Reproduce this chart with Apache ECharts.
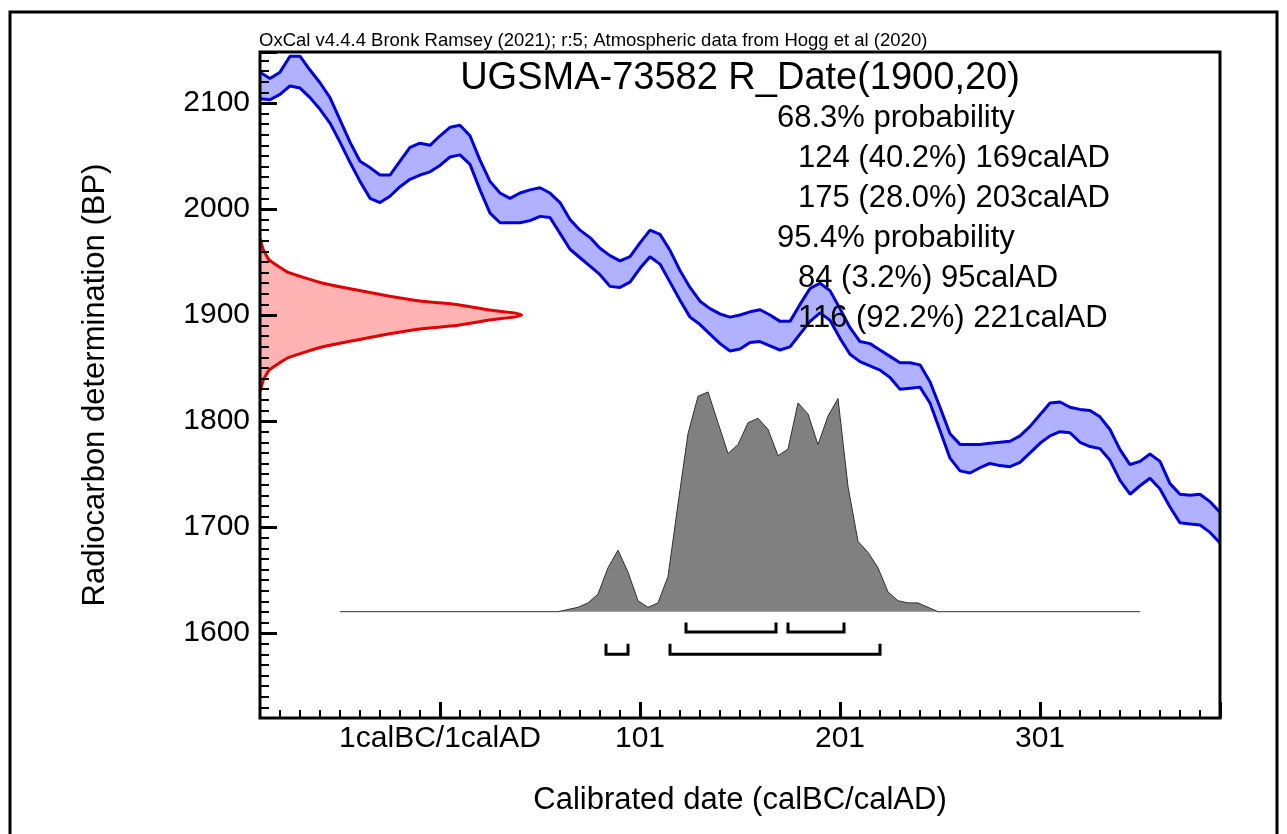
<!DOCTYPE html>
<html>
<head>
<meta charset="utf-8">
<title>UGSMA-73582 R_Date(1900,20)</title>
<script src="https://cdn.jsdelivr.net/npm/echarts@6/dist/echarts.min.js"></script>
<style>
html, body { margin: 0; padding: 0; background: #fff; }
#chart { width: 1287px; height: 834px; }
</style>
</head>
<body>
<div id="chart"></div>
<script>
// calibration curve (IntCal band, +/- 1 sigma), calAD years
var curveYears = [-89,-84,-79,-74,-69,-64,-59,-54,-49,-44,-39,-34,-29,-24,-19,-14,-9,-4,1,6,
  11,16,21,26,31,36,41,46,51,56,61,66,71,76,81,86,91,96,101,106,
  111,116,121,126,131,136,141,146,151,156,161,166,171,176,181,186,191,196,201,206,
  211,216,221,226,231,236,241,246,251,256,261,266,271,276,281,286,291,296,301,306,
  311,316,321,326,331,336,341,346,351,356,361,366,371,376,381,386,391];
var curveUpper = [2129,2123,2129,2144,2144,2131,2119,2105,2084,2063,
  2045,2039,2032,2032,2045,2058,2062,2060,2069,2077,
  2079,2069,2046,2026,2015,2010,2015,2018,2020,2015,
  2006,1990,1980,1973,1963,1956,1951,1955,1968,1980,
  1976,1961,1942,1926,1913,1906,1901,1898,1900,1903,
  1905,1900,1894,1894,1910,1925,1930,1923,1906,1888,
  1875,1873,1867,1861,1855,1855,1853,1837,1813,1788,
  1778,1778,1778,1779,1780,1781,1786,1795,1806,1817,
  1818,1813,1811,1810,1804,1792,1773,1759,1762,1769,
  1762,1741,1731,1730,1731,1724,1714];
var curveLower = [2104,2103,2108,2116,2114,2105,2094,2081,2063,2044,
  2026,2010,2006,2012,2021,2028,2032,2035,2041,2049,
  2051,2042,2018,1996,1987,1987,1987,1989,1993,1992,
  1977,1962,1954,1946,1938,1927,1926,1931,1944,1955,
  1948,1931,1914,1898,1891,1882,1873,1866,1868,1874,
  1875,1871,1867,1870,1882,1894,1902,1895,1878,1863,
  1856,1852,1848,1841,1830,1831,1832,1817,1791,1765,
  1753,1751,1756,1760,1758,1757,1761,1770,1779,1786,
  1790,1789,1780,1776,1774,1763,1744,1731,1739,1746,
  1736,1719,1704,1703,1702,1695,1685];

// radiocarbon likelihood R_Date(1900,20): BP vs relative probability
var redBP   = [1972,1968,1962,1958,1952,1946,1940,1930,1924,1918,1913,1910,1905,1902,1900,
  1898,1895,1890,1887,1882,1876,1870,1860,1854,1848,1842,1838,1832,1828];
var redProb = [0,0.005,0.012,0.02,0.035,0.07,0.11,0.24,0.36,0.49,0.62,0.75,0.87,0.97,1,
  0.97,0.87,0.75,0.62,0.49,0.36,0.24,0.11,0.07,0.035,0.02,0.012,0.005,0];

// calibrated distribution: calAD years vs relative probability
var greyYears = [-49,55,60,65,70,75,80,85,90,95,100,105,110,115,120,125,130,135,140,145,
  150,155,160,165,170,175,180,185,190,195,200,205,210,215,220,225,230,235,240,245,250,351];
var greyProb = [0,0,0,0.01,0.02,0.04,0.08,0.20,0.28,0.18,0.05,0.02,0.04,0.16,0.49,0.81,0.98,1.0,0.86,0.72,
  0.76,0.86,0.88,0.83,0.71,0.74,0.95,0.90,0.76,0.89,0.97,0.57,0.32,0.27,0.20,0.09,0.05,0.04,0.04,0.02,0,0];

// highest probability ranges [from, to, percent]
var ranges68 = [[124,169,40.2],[175,203,28.0]];
var ranges95 = [[84,95,3.2],[116,221,92.2]];

var xMajorTicks = [1,101,201,301];
var yMajorTicks = [1600,1700,1800,1900,2000,2100];

var FONT = '"Liberation Sans", Arial, sans-serif';

function zip(a, b) {
    var out = [];
    for (var i = 0; i < a.length; i++) out.push([a[i], b[i]]);
    return out;
}

function bracketSeries(ranges, lineBP, topBP) {
    return {
        type: 'custom',
        xAxisIndex: 0, yAxisIndex: 0,
        z: 5,
        data: ranges.map(function (r) { return [r[0], r[1]]; }),
        renderItem: function (params, api) {
            var s = api.value(0), e = api.value(1);
            return {
                type: 'polyline',
                shape: { points: [api.coord([s, topBP]), api.coord([s, lineBP]), api.coord([e, lineBP]), api.coord([e, topBP])] },
                style: { stroke: '#000', lineWidth: 3, fill: null }
            };
        }
    };
}

var infoTexts = [];
var infoY = 118;
function addInfo(text, x) {
    infoTexts.push({
        type: 'text', z: 100,
        style: { text: text, x: x, y: infoY, fontSize: 31, fontFamily: FONT, fill: '#000', textAlign: 'left', textVerticalAlign: 'middle' }
    });
    infoY += 40;
}
addInfo('68.3% probability', 777);
ranges68.forEach(function (r) { addInfo(r[0] + ' (' + r[2].toFixed(1) + '%) ' + r[1] + 'calAD', 798); });
addInfo('95.4% probability', 777);
ranges95.forEach(function (r) { addInfo(r[0] + ' (' + r[2].toFixed(1) + '%) ' + r[1] + 'calAD', 798); });

var noLine = { show: false, onZero: false };

var chart = echarts.init(document.getElementById('chart'));

var option = {
    animation: false,
    backgroundColor: '#fff',
    grid: [
        { left: 260, top: 52, width: 960, height: 666, outerBoundsMode: 'none' },
        { left: 440, top: 52, width: 780, height: 666, outerBoundsMode: 'none' },
        { left: 260, top: 52, width: 960, height: 581.2, outerBoundsMode: 'none' }
    ],
    xAxis: [
        {   // minor ticks, calendar years
            gridIndex: 0, type: 'value', position: 'bottom', min: -89, max: 391, interval: 10, z: 10,
            axisLine: noLine,
            axisTick: { inside: true, length: 8, lineStyle: { color: '#000', width: 2 } },
            axisLabel: { show: false }, splitLine: { show: false }
        },
        {   // probability scale of the likelihood curve
            gridIndex: 0, type: 'value', position: 'top', min: 0, max: 3.668, show: false,
            axisLine: noLine
        },
        {   // major ticks and labels
            gridIndex: 1, type: 'value', position: 'bottom', min: 1, max: 391, interval: 100, z: 10,
            axisLine: noLine,
            axisTick: { inside: true, length: 16, lineStyle: { color: '#000', width: 3 } },
            axisLabel: {
                margin: 6, color: '#000', fontSize: 30, fontFamily: FONT,
                formatter: function (v) {
                    if (xMajorTicks.indexOf(v) < 0) return '';
                    return v === 1 ? '1calBC/1calAD' : String(v);
                }
            },
            splitLine: { show: false }
        },
        { gridIndex: 2, type: 'value', min: -89, max: 391, show: false, axisLine: noLine }
    ],
    yAxis: [
        {   // minor ticks, radiocarbon BP
            gridIndex: 0, type: 'value', position: 'left', min: 1520, max: 2148, interval: 10, z: 10,
            axisLine: noLine,
            axisTick: { inside: true, length: 9, lineStyle: { color: '#000', width: 2 } },
            axisLabel: { show: false }, splitLine: { show: false }
        },
        {   // probability scale of the calibrated distribution
            gridIndex: 0, type: 'value', position: 'right', min: -0.4838, max: 2.547, show: false,
            axisLine: noLine
        },
        { gridIndex: 1, type: 'value', min: 0, max: 1, show: false, axisLine: noLine },
        {   // major ticks and labels
            gridIndex: 2, type: 'value', position: 'left', min: 1600, max: 2148, interval: 100, z: 10,
            axisLine: noLine,
            axisTick: { inside: true, length: 17, lineStyle: { color: '#000', width: 3 } },
            axisLabel: {
                margin: 10, color: '#000', fontSize: 30, fontFamily: FONT,
                formatter: function (v) { return yMajorTicks.indexOf(v) < 0 ? '' : String(v); }
            },
            splitLine: { show: false }
        }
    ],
    series: [
        {   // calibration band fill
            type: 'custom', xAxisIndex: 0, yAxisIndex: 0, z: 1,
            data: [[curveYears[0], curveUpper[0]]],
            renderItem: function (params, api) {
                var pts = [];
                for (var i = 0; i < curveYears.length; i++) pts.push(api.coord([curveYears[i], curveUpper[i]]));
                for (var j = curveYears.length - 1; j >= 0; j--) pts.push(api.coord([curveYears[j], curveLower[j]]));
                return { type: 'polygon', shape: { points: pts }, style: { fill: '#b0b2ff', stroke: null } };
            }
        },
        {
            type: 'line', xAxisIndex: 0, yAxisIndex: 0, z: 3,
            data: zip(curveYears, curveUpper), showSymbol: false, symbol: 'none',
            lineStyle: { color: '#0000d8', width: 3 }
        },
        {
            type: 'line', xAxisIndex: 0, yAxisIndex: 0, z: 3,
            data: zip(curveYears, curveLower), showSymbol: false, symbol: 'none',
            lineStyle: { color: '#0000d8', width: 3 }
        },
        {   // likelihood, drawn sideways on the BP axis
            type: 'custom', xAxisIndex: 1, yAxisIndex: 0, z: 4,
            data: [[redProb[0], redBP[0]]],
            renderItem: function (params, api) {
                var pts = [];
                for (var i = 0; i < redBP.length; i++) pts.push(api.coord([redProb[i], redBP[i]]));
                return {
                    type: 'group',
                    children: [
                        { type: 'polygon', shape: { points: pts, smooth: 0.15 }, style: { fill: '#ffb3b3', stroke: null } },
                        { type: 'polyline', shape: { points: pts, smooth: 0.15 }, style: { stroke: '#e00000', lineWidth: 3, fill: null } }
                    ]
                };
            }
        },
        {   // calibrated distribution
            type: 'line', xAxisIndex: 0, yAxisIndex: 1, z: 4,
            data: zip(greyYears, greyProb), showSymbol: false, symbol: 'none',
            lineStyle: { color: '#303030', width: 1 },
            areaStyle: { color: '#808080', opacity: 1 }
        },
        bracketSeries(ranges68, 1601, 1610),
        bracketSeries(ranges95, 1580, 1590)
    ],
    graphic: [
        { type: 'rect', z: 100, shape: { x: 10, y: 12, width: 1267, height: 840 },
          style: { fill: null, stroke: '#000', lineWidth: 3 } },
        { type: 'rect', z: 100, shape: { x: 260, y: 52, width: 960, height: 666 },
          style: { fill: null, stroke: '#000', lineWidth: 3 } },
        { type: 'text', z: 100,
          style: { text: 'OxCal v4.4.4 Bronk Ramsey (2021); r:5; Atmospheric data from Hogg et al (2020)',
                   x: 259, y: 41, fontSize: 18.5, fontFamily: FONT, fill: '#000', textAlign: 'left', textVerticalAlign: 'middle' } },
        { type: 'text', z: 100,
          style: { text: 'UGSMA-73582 R_Date(1900,20)', x: 740, y: 79, fontSize: 38, fontFamily: FONT,
                   fill: '#000', textAlign: 'center', textVerticalAlign: 'middle' } },
        { type: 'text', z: 100, x: 95, y: 385, rotation: Math.PI / 2,
          style: { text: 'Radiocarbon determination (BP)', x: 0, y: 0, fontSize: 31, fontFamily: FONT,
                   fill: '#000', textAlign: 'center', textVerticalAlign: 'middle' } },
        { type: 'text', z: 100,
          style: { text: 'Calibrated date (calBC/calAD)', x: 740, y: 800, fontSize: 31, fontFamily: FONT,
                   fill: '#000', textAlign: 'center', textVerticalAlign: 'middle' } }
    ].concat(infoTexts)
};

chart.setOption(option);
</script>
</body>
</html>
